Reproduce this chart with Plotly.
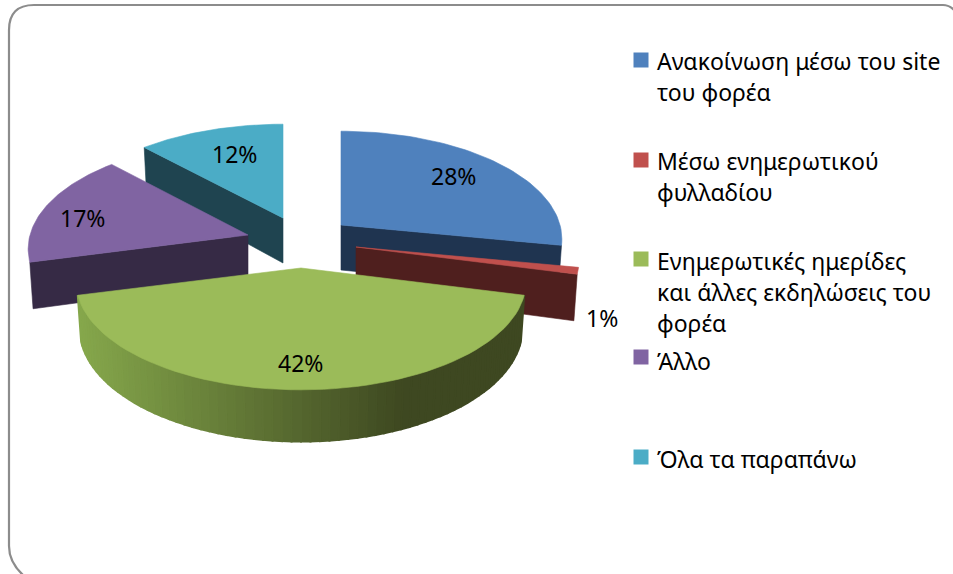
import math
import plotly.graph_objects as go

categories = ["Ανακοίνωση μέσω του site\nτου φορέα", "Μέσω ενημερωτικού\nφυλλαδίου",
              "Ενημερωτικές ημερίδες\nκαι άλλες εκδηλώσεις του\nφορέα", "Άλλο", "Όλα τα παραπάνω"]
values = [28, 1, 42, 17, 12]
top_colors = ["#4F81BD", "#C0504D", "#9BBB59", "#8064A2", "#4BACC6"]
wall_colors = ["#1F3450", "#4F1F1E", "#9BBB59", "#362A45", "#1F4450"]

# geometry of the exploded pie
apexes = [(341, 225), (356, 247), (301, 268), (248, 235), (283, 218)]
radii_x = [219, 221, 223, 218, 222]
RY, K, DEPTH, TAPER = 106, 0.13, 45, 0.985
label_pos = [(453, 176), (602, 318), (300, 363), (82, 218), (234, 154)]
legend_box_x = 641
legend_box_y = [60, 160, 259, 357, 457]
legend_line_y = [[61, 92], [161, 192], [261, 292, 323], [361], [459]]
LEGEND_TEXT_X = 655
FONT = "Noto Sans"
FS_LEGEND, FS_LABEL = 23, 23
GRAD_L, GRAD_R = (134, 168, 76), (62, 72, 33)

total = sum(values)
spans, c = [], 0
for v in values:
    spans.append((c / total * 2 * math.pi, (c + v) / total * 2 * math.pi))
    c += v


def pt(i, t, bottom=False):
    ax, ay = apexes[i]
    s = 1 / (1 + K * math.cos(t))
    x = radii_x[i] * math.sin(t) * s
    y = -RY * math.cos(t) * s
    if bottom:
        return ax + x * TAPER, ay + y + DEPTH * s
    return ax + x, ay + y


def arc(i, a, b, bottom=False, n=60):
    return [pt(i, a + (b - a) * j / n, bottom) for j in range(n + 1)]


fig = go.Figure()


def poly(points, color, name, width=0.6):
    pts = list(points) + [points[0]]
    fig.add_trace(go.Scatter(x=[p[0] for p in pts], y=[p[1] for p in pts], mode="lines",
                             fill="toself", fillcolor=color, line=dict(color=color, width=width),
                             name=name, hoverinfo="name", showlegend=False))


def radial_wall(i, t):
    ax, ay = apexes[i]
    poly([(ax, ay), pt(i, t), pt(i, t, True), (ax, ay + DEPTH)], wall_colors[i], categories[i])


def top(i):
    poly([apexes[i]] + arc(i, *spans[i]), top_colors[i], categories[i])


# back to front: teal, blue, purple, red, green
radial_wall(4, spans[4][0]); top(4)
radial_wall(0, spans[0][1]); top(0)
radial_wall(3, spans[3][0]); top(3)
radial_wall(1, spans[1][1]); top(1)

# green rim with its horizontal shading
a, b = spans[2]
N = 70
x_min, x_max = pt(2, b)[0], pt(2, a)[0]
for j in range(N):
    t0, t1 = a + (b - a) * j / N, a + (b - a) * (j + 1) / N
    xm = (pt(2, t0)[0] + pt(2, t1)[0]) / 2
    f = 1 - (xm - x_min) / (x_max - x_min)      # 1 at left, 0 at right
    f = min(1, max(0, (f - 0.27) / 0.73))
    col = "rgb(%d,%d,%d)" % tuple(GRAD_R[k] + (GRAD_L[k] - GRAD_R[k]) * f for k in range(3))
    poly([pt(2, t0), pt(2, t1), pt(2, t1, True), pt(2, t0, True)], col, categories[2], width=2)
top(2)

# legend swatches
fig.add_trace(go.Scatter(x=[legend_box_x] * 5, y=legend_box_y, mode="markers",
                         marker=dict(symbol="square", size=15, color=top_colors, line=dict(width=0)),
                         text=categories, hoverinfo="text", showlegend=False))

ann = []
for v, (x, y) in zip(values, label_pos):
    ann.append(dict(x=x, y=y, text=f"{v}%", showarrow=False, xanchor="center", yanchor="middle",
                    font=dict(family=FONT, size=FS_LABEL, color="#000000")))
for cat, ys in zip(categories, legend_line_y):
    for line, y in zip(cat.split("\n"), ys):
        ann.append(dict(x=LEGEND_TEXT_X, y=y, text=line, showarrow=False, xanchor="left", yanchor="middle",
                        font=dict(family=FONT, size=FS_LEGEND, color="#000000")))

fig.update_layout(
    width=953, height=574, margin=dict(l=0, r=0, t=0, b=0),
    paper_bgcolor="#ffffff", plot_bgcolor="#ffffff", showlegend=False,
    xaxis=dict(range=[0, 953], visible=False, fixedrange=True),
    yaxis=dict(range=[574, 0], visible=False, fixedrange=True),
    annotations=ann,
    shapes=[dict(type="path", xref="x", yref="y",
                 path="M 23 575 Q 9 562 9 546 L 9 30 Q 9 5 34 5 L 943 5 Q 949 5 954 10",
                 line=dict(color="#8C8C8C", width=2.2))],
)
fig.write_html("out.html", config=dict(displayModeBar=False),
               post_script="document.body.style.margin='0';document.documentElement.style.overflow='hidden';")
